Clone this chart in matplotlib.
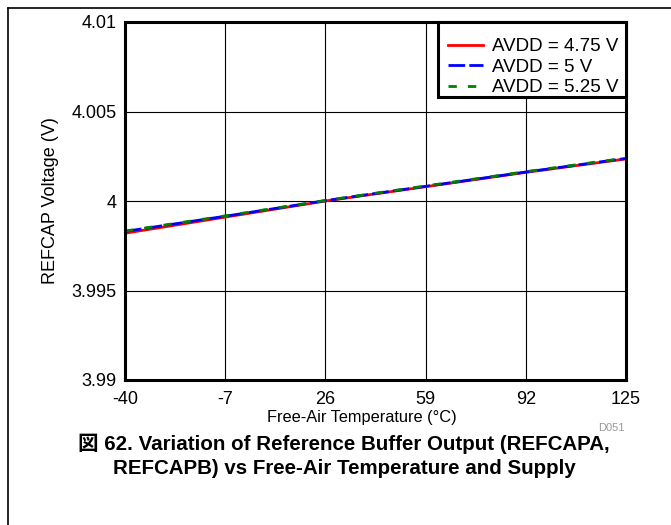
import matplotlib
matplotlib.use("Agg")
import matplotlib.pyplot as plt
from matplotlib.lines import Line2D
from matplotlib.patches import Rectangle

temps = [-40, -7, 26, 59, 92, 125]
v_475 = [3.99820, 3.99910, 4.00000, 4.00080, 4.00160, 4.00235]
v_500 = [3.99830, 3.99915, 4.00002, 4.00082, 4.00162, 4.00238]
v_525 = [3.99832, 3.99917, 4.00003, 4.00084, 4.00164, 4.00240]
labels = ["AVDD = 4.75 V", "AVDD = 5 V", "AVDD = 5.25 V"]
xticks = [-40, -7, 26, 59, 92, 125]
yticks = [3.99, 3.995, 4.0, 4.005, 4.01]
yticklabels = ["3.99", "3.995", "4", "4.005", "4.01"]

fam = ["Liberation Sans", "Noto Sans CJK JP", "DejaVu Sans"]
plt.rcParams['font.family'] = fam

W, H = 671, 525
AX_L, AX_R, AX_T, AX_B = 125, 626, 22, 380
AW, AH = AX_R - AX_L, AX_B - AX_T
fig = plt.figure(figsize=(W / 100, H / 100), dpi=100)
ax = fig.add_axes([AX_L / W, 1 - AX_B / H, AW / W, AH / H])

ax.plot(temps, v_475, color="#ff0000", lw=2, linestyle="-", label=labels[0])
ax.plot(temps, v_500, color="#0000ff", lw=2, linestyle=(0, (6, 1.5)), label=labels[1])
ax.plot(temps, v_525, color="#008000", lw=2, linestyle=(0, (3, 4)), label=labels[2])

ax.set_xlim(-40, 125)
ax.set_ylim(3.99, 4.01)
ax.set_xticks(xticks)
ax.set_xticklabels([str(t) for t in xticks], fontsize=13)
ax.set_yticks(yticks)
ax.set_yticklabels(yticklabels, fontsize=13)
ax.tick_params(axis="x", length=0, pad=8)
ax.tick_params(axis="y", length=0, pad=6)
ax.grid(True, color="black", lw=0.8)
for s in ax.spines.values():
    s.set_linewidth(2.2)

ax.set_xlabel("Free-Air Temperature (°C)", fontsize=11.8)
ax.xaxis.set_label_coords((362 - AX_L) / AW, -(410 - AX_B) / AH)
ax.set_ylabel("REFCAP Voltage (V)", fontsize=13)
ax.yaxis.set_label_coords((59 - AX_L) / AW, 0.5)

# legend frame and entries
ax.add_patch(Rectangle(((438 - AX_L) / AW, 1 - (97 - AX_T) / AH),
                       (AX_R - 438) / AW, (97 - AX_T) / AH,
                       transform=ax.transAxes, facecolor="white", edgecolor="black",
                       lw=2.2, zorder=4, clip_on=False))
leg = ax.legend(loc="upper left", fontsize=13.5, frameon=False,
                bbox_to_anchor=((448 - AX_L) / AW, 1 - (38 - AX_T) / AH),
                borderaxespad=0, handlelength=1.87, handletextpad=0.5,
                labelspacing=0.19, borderpad=0)
leg.set_zorder(5)

fig.text(625 / W, 1 - 428 / H, "D051", fontsize=8, color="#999999", ha="right", va="center")
fig.text(344 / W, 1 - 444 / H, "図 62. Variation of Reference Buffer Output (REFCAPA,",
         fontsize=14.8, fontweight="bold", ha="center", va="center", family=fam)
fig.text(344 / W, 1 - 469 / H, "REFCAPB) vs Free-Air Temperature and Supply",
         fontsize=14.8, fontweight="bold", ha="center", va="center", family=fam)

# outer border (left and top)
fig.add_artist(Line2D([7.5 / W, 7.5 / W], [0, 1 - 7.5 / H], color="black", lw=1.2, transform=fig.transFigure))
fig.add_artist(Line2D([7.5 / W, 1], [1 - 7.5 / H, 1 - 7.5 / H], color="black", lw=1.2, transform=fig.transFigure))

fig.savefig("out.png", dpi=100)
